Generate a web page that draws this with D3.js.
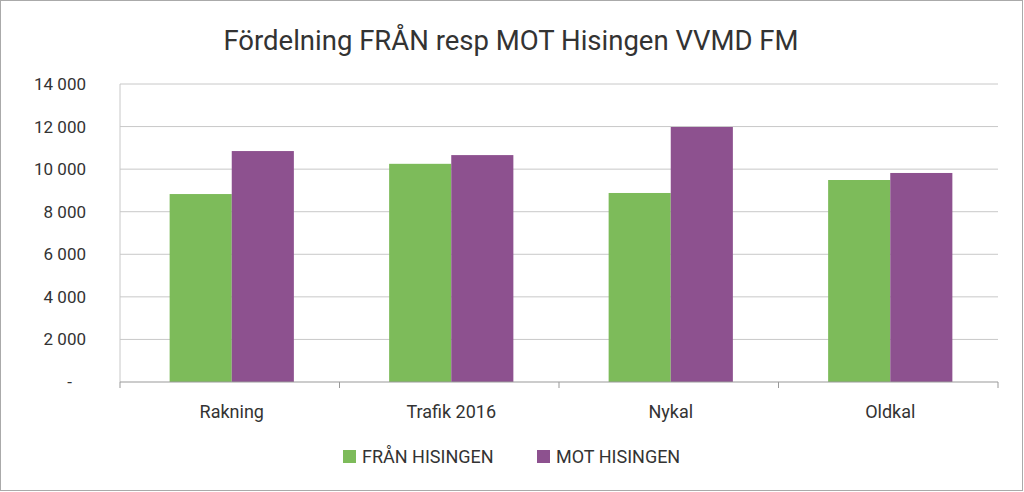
<!DOCTYPE html><html><head><meta charset="utf-8"><script src="https://cdn.jsdelivr.net/npm/d3@7"></script>
<style>body{margin:0;background:#fff}svg{font-family:Roboto,"Noto Sans",sans-serif}</style></head><body><svg width="1024" height="492"></svg><script>
const categories=["Rakning","Trafik 2016","Nykal","Oldkal"];
const seriesNames=["FRÅN HISINGEN","MOT HISINGEN"];
const fran=[8830,10250,8880,9490];
const mot=[10850,10660,11980,9820];
const yTicks=[0,2000,4000,6000,8000,10000,12000,14000];
const colors=["#7dbb5a","#8d518f"];
const svg=d3.select("svg");
svg.append("rect").attr("x",0.5).attr("y",0.5).attr("width",1022).attr("height",490).attr("fill","#fff").attr("stroke","#aaa");
svg.append("text").attr("x",511).attr("y",50).attr("text-anchor","middle").attr("font-size",27.5).attr("fill","#333").text("Fördelning FRÅN resp MOT Hisingen VVMD FM");
const x=d3.scaleBand().domain(categories).range([120,998]);
const y=d3.scaleLinear().domain([0,14000]).range([382,84]);
const fmt=v=>v===0?"-":d3.format(",")(v).replace(/,/g," ");
svg.append("g").selectAll("line").data(yTicks.slice(1)).join("line").attr("x1",120).attr("x2",998).attr("y1",d=>y(d)).attr("y2",d=>y(d)).attr("stroke","#c8c8c8");
svg.append("g").selectAll("text").data(yTicks).join("text").attr("x",d=>d===0?72:86).attr("y",d=>y(d)+6).attr("text-anchor","end").attr("font-size",17).attr("fill","#333").text(fmt);
svg.append("line").attr("x1",120).attr("x2",120).attr("y1",84).attr("y2",382).attr("stroke","#c8c8c8");
const bw=x.bandwidth()*0.283;
[fran,mot].forEach((s,i)=>{
 svg.append("g").selectAll("rect").data(categories).join("rect")
 .attr("x",(d)=>x(d)+x.bandwidth()/2-bw+i*bw+2).attr("width",bw)
 .attr("y",(d,j)=>y(s[j])).attr("height",(d,j)=>y(0)-y(s[j])).attr("fill",colors[i]);
});
svg.append("line").attr("x1",120).attr("x2",998).attr("y1",382).attr("y2",382).attr("stroke","#999");
svg.append("g").selectAll("line").data([...categories.map(c=>x(c)),998]).join("line").attr("x1",d=>d).attr("x2",d=>d).attr("y1",382).attr("y2",388).attr("stroke","#999");
svg.append("g").selectAll("text").data(categories).join("text").attr("x",d=>x(d)+x.bandwidth()/2+2).attr("y",418).attr("text-anchor","middle").attr("font-size",18).attr("fill","#333").text(d=>d);
const lx=[343,537];
seriesNames.forEach((n,i)=>{
 svg.append("rect").attr("x",lx[i]).attr("y",450).attr("width",13).attr("height",13).attr("fill",colors[i]);
 svg.append("text").attr("x",lx[i]+19).attr("y",463).attr("font-size",18).attr("fill","#333").text(n);
});
</script></body></html>
